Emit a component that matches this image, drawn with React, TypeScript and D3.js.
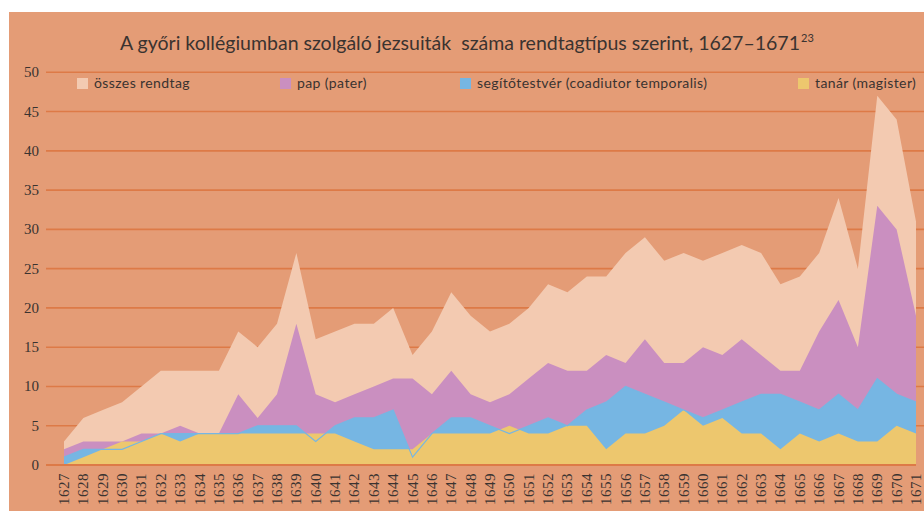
import React from "react";
import * as d3 from "d3";

const years = d3.range(1627, 1672).map(String);
const osszes = [3,6,7,8,10,12,12,12,12,17,15,18,27,16,17,18,18,20,14,17,22,19,17,18,20,23,22,24,24,27,29,26,27,26,27,28,27,23,24,27,34,25,47,44,31];
const pap = [2,3,3,3,4,4,5,4,4,9,6,9,18,9,8,9,10,11,11,9,12,9,8,9,11,13,12,12,14,13,16,13,13,15,14,16,14,12,12,17,21,15,33,30,19];
const segito = [1,2,2,2,3,4,4,4,4,4,5,5,5,3,5,6,6,7,1,4,6,6,5,4,5,6,5,7,8,10,9,8,7,6,7,8,9,9,8,7,9,7,11,9,8];
const tanar = [0,1,2,3,3,4,3,4,4,4,4,4,4,4,4,3,2,2,2,4,4,4,4,5,4,4,5,5,2,4,4,5,7,5,6,4,4,2,4,3,4,3,3,5,4];
const yTicks = [0,5,10,15,20,25,30,35,40,45,50];
const legendLabels = ["összes rendtag", "pap (pater)", "segítőtestvér (coadiutor temporalis)", "tanár (magister)"];
const titleText = "A győri kollégiumban szolgáló jezsuiták  száma rendtagtípus szerint, 1627–1671";
const titleNote = "23";

const W = 924, H = 511;
const colors = ["#F3CAB1", "#CA8FC0", "#76B6E3", "#EDC76E"];
const bg = "#E49C76";
const gridColor = "#DD7A47";
const textColor = "#3a3330";

export default function App() {
  const x = d3.scalePoint<string>().domain(years).range([64, 916]);
  const y = d3.scaleLinear().domain([0, 50]).range([465, 72.3]);
  const series = [osszes, pap, segito, tanar];
  const area = d3.area<number>()
    .x((_, i) => x(years[i]) as number)
    .y0(y(0))
    .y1((d) => y(d));
  const line = d3.line<number>()
    .x((_, i) => x(years[i]) as number)
    .y((d) => y(d));
  const legendX = [77, 280, 460, 798];

  return (
    <svg width={W} height={H} style={{ position: "absolute", left: 0, top: 0, display: "block" }}>
      <rect x={0} y={0} width={W} height={H} fill="#ffffff" />
      <rect x={9} y={12} width={W - 9} height={H - 12} fill={bg} />
      <text x={120} y={50} fontFamily="Lato, 'Open Sans', sans-serif" fontSize={19} fill={textColor}
        textLength={680} lengthAdjust="spacingAndGlyphs" style={{ whiteSpace: "pre" }}>{titleText}</text>
      <text x={801} y={42} fontFamily="Lato, sans-serif" fontSize={11} fill={textColor}>{titleNote}</text>
      {yTicks.map((t) => (
        <g key={t}>
          {t > 0 && <line x1={46} x2={W} y1={y(t)} y2={y(t)} stroke={gridColor} strokeWidth={1.6} />}
          <text x={39} y={y(t) + 5} textAnchor="end" fontFamily="'Liberation Serif', serif" fontSize={15} fill={textColor}>{t}</text>
        </g>
      ))}
      {series.map((s, k) => (
        <path key={k} d={area(s) as string} fill={colors[k]} />
      ))}
      <path d={line(segito) as string} fill="none" stroke={colors[2]} strokeWidth={1.2} />
      <line x1={46} x2={916} y1={y(0)} y2={y(0)} stroke={gridColor} strokeWidth={2} />
      {years.map((yr) => (
        <text key={yr} transform={`translate(${(x(yr) as number) + 5},473) rotate(-90)`} textAnchor="end"
          fontFamily="'Liberation Serif', serif" fontSize={15} fill={textColor} letterSpacing={0.5}>{yr}</text>
      ))}
      {legendLabels.map((lab, k) => (
        <g key={lab}>
          <rect x={legendX[k]} y={78} width={11} height={11} fill={colors[k]} />
          <text x={legendX[k] + 17} y={88} fontFamily="Lato, 'Open Sans', sans-serif" fontSize={14} fill={textColor} letterSpacing={0.4}>{lab}</text>
        </g>
      ))}
    </svg>
  );
}
